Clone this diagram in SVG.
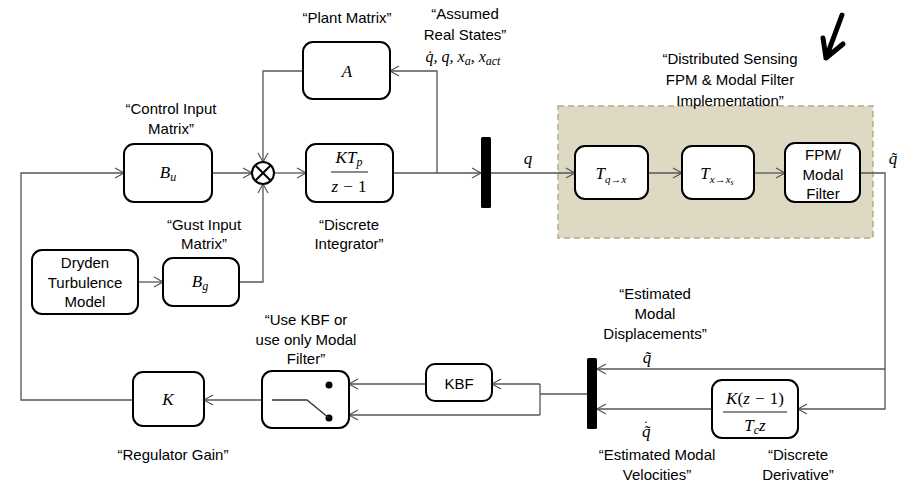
<svg xmlns="http://www.w3.org/2000/svg" width="906" height="492" viewBox="0 0 906 492">
<style>
.box{fill:#fff;stroke:#000;stroke-width:2}
.lbl{font-family:"Liberation Sans",Arial,sans-serif;font-size:15px;fill:#000;text-anchor:middle}
.m{font-family:"Liberation Serif","Times New Roman",serif;font-style:italic;font-size:17px;fill:#000;text-anchor:middle}
.up{font-style:normal}
.c{fill:none;stroke:#555;stroke-width:1.3}
.ca{fill:none;stroke:#555;stroke-width:1.3;marker-end:url(#ah)}
</style>
<defs>
<marker id="ah" markerUnits="userSpaceOnUse" markerWidth="12" markerHeight="12" refX="10" refY="6" orient="auto">
<path d="M1,1 L10,6 L1,11" fill="none" stroke="#555" stroke-width="1.2"/>
</marker>
</defs>
<rect width="906" height="492" fill="#fff"/>

<g id="region">
<rect x="558" y="106" width="315" height="132" fill="#ddd9c3" stroke="#b5ab88" stroke-width="1.5" stroke-dasharray="6,4"/>
</g>

<g id="connectors">
<path class="ca" d="M212,173 H252"/>
<path class="ca" d="M274,173 H306"/>
<path class="ca" d="M393,173 H481"/>
<path class="ca" d="M437,173 V71 H390"/>
<path class="ca" d="M303,71 H263 V162"/>
<path class="ca" d="M239,282 H263 V184"/>
<path class="ca" d="M138,282 H163"/>
<path class="ca" d="M491,173 H575"/>
<path class="ca" d="M648,173 H682"/>
<path class="ca" d="M754,173 H785"/>
<path class="ca" d="M860,173 H885 V409 H798"/>
<path class="ca" d="M885,369 H597"/>
<path class="ca" d="M712,409 H597"/>
<path class="c" d="M587,394 H540 M540,384 V415"/>
<path class="ca" d="M540,384 H492"/>
<path class="ca" d="M540,415 H349"/>
<path class="ca" d="M426,384 H349"/>
<path class="ca" d="M262,400 H204"/>
<path class="ca" d="M133,400 H21 V173 H124"/>
</g>

<g id="sum">
<circle cx="263" cy="173" r="11" fill="#fff" stroke="#000" stroke-width="2"/>
<path d="M255.2,165.2 L270.8,180.8 M270.8,165.2 L255.2,180.8" stroke="#000" stroke-width="2"/>
</g>

<g id="plant">
<rect class="box" x="303" y="42" width="87" height="57" rx="10"/>
<text class="m" x="347" y="77">A</text>
<text class="lbl" x="347" y="23">“Plant Matrix”</text>
</g>

<g id="states">
<text class="lbl" x="465" y="19">“Assumed</text>
<text class="lbl" x="465" y="40">Real States”</text>
<text class="m" x="463" y="62" style="font-size:16px">q̇, q, x<tspan dy="3" font-size="12">a</tspan><tspan dy="-3">, x</tspan><tspan dy="3" font-size="12">act</tspan></text>
</g>

<g id="bu">
<rect class="box" x="124" y="144" width="88" height="58" rx="10"/>
<text class="m" x="168" y="178">B<tspan dy="3" font-size="12">u</tspan></text>
<text class="lbl" x="171" y="114">“Control Input</text>
<text class="lbl" x="171" y="134">Matrix”</text>
</g>

<g id="integrator">
<rect class="box" x="306" y="144" width="87" height="58" rx="10"/>
<text class="m" x="349" y="163">KT<tspan dy="3" font-size="12">p</tspan></text>
<line x1="331" y1="172" x2="368" y2="172" stroke="#666" stroke-width="1.5"/>
<text class="m" x="349" y="192">z − <tspan class="up">1</tspan></text>
<text class="lbl" x="349" y="230">“Discrete</text>
<text class="lbl" x="349" y="249">Integrator”</text>
</g>

<g id="dryden">
<rect class="box" x="32" y="250" width="106" height="64" rx="10"/>
<text class="lbl" x="85" y="268">Dryden</text>
<text class="lbl" x="85" y="288">Turbulence</text>
<text class="lbl" x="85" y="307">Model</text>
</g>

<g id="bg">
<rect class="box" x="163" y="258" width="76" height="48" rx="10"/>
<text class="m" x="200" y="287">B<tspan dy="3" font-size="12">g</tspan></text>
<text class="lbl" x="204" y="230">“Gust Input</text>
<text class="lbl" x="204" y="249">Matrix”</text>
</g>

<g id="bar1">
<rect x="481" y="137" width="10" height="71" rx="1.5" fill="#000"/>
<text class="m" x="528" y="164">q</text>
</g>

<g id="tq">
<rect class="box" x="575" y="146" width="73" height="53" rx="10"/>
<text class="m" x="611" y="179">T<tspan dy="4" font-size="11">q→x</tspan></text>
</g>

<g id="tx">
<rect class="box" x="682" y="146" width="72" height="53" rx="10"/>
<text class="m" x="717" y="179">T<tspan dy="4" font-size="11">x→x</tspan><tspan dy="2" font-size="8">s</tspan></text>
</g>

<g id="fpm">
<rect class="box" x="785" y="143" width="75" height="59" rx="10"/>
<text class="lbl" x="823" y="160">FPM/</text>
<text class="lbl" x="823" y="180">Modal</text>
<text class="lbl" x="823" y="199">Filter</text>
<text class="m" x="893" y="164">q̃</text>
</g>

<g id="dsense">
<text class="lbl" x="730" y="64">“Distributed Sensing</text>
<text class="lbl" x="730" y="85">FPM &amp; Modal Filter</text>
<text class="lbl" x="730" y="106">Implementation”</text>
<path d="M842,15 L826,58 M823,38 L826,58 L843,44" fill="none" stroke="#000" stroke-width="5" stroke-linecap="round" stroke-linejoin="round"/>
</g>

<g id="bar2">
<rect x="587" y="358" width="10" height="71" rx="1.5" fill="#000"/>
<text class="m" x="647" y="363">q̃</text>
<text class="m" x="642" y="437" style="text-anchor:start">q̃<tspan class="up" dx="-7" dy="-6" font-size="14">˙</tspan></text>
<text class="lbl" x="655" y="299">“Estimated</text>
<text class="lbl" x="655" y="319">Modal</text>
<text class="lbl" x="655" y="339">Displacements”</text>
<text class="lbl" x="657" y="460">“Estimated Modal</text>
<text class="lbl" x="657" y="480">Velocities”</text>
</g>

<g id="derivative">
<rect class="box" x="712" y="380" width="86" height="58" rx="10"/>
<text class="m" x="755" y="404">K<tspan class="up">(</tspan>z − <tspan class="up">1)</tspan></text>
<line x1="723" y1="412" x2="787" y2="412" stroke="#666" stroke-width="1.5"/>
<text class="m" x="755" y="431">T<tspan dy="3" font-size="12">c</tspan><tspan dy="-3">z</tspan></text>
<text class="lbl" x="798" y="460">“Discrete</text>
<text class="lbl" x="798" y="480">Derivative”</text>
</g>

<g id="kbf">
<rect class="box" x="426" y="364" width="66" height="37" rx="9"/>
<text class="lbl" x="459" y="389">KBF</text>
</g>

<g id="switch">
<rect class="box" x="262" y="371" width="87" height="57" rx="10"/>
<circle cx="329" cy="385" r="3.5" fill="#000"/>
<circle cx="329" cy="418" r="3.5" fill="#000"/>
<path d="M272,400 H307 L329,418" fill="none" stroke="#333" stroke-width="1.3"/>
<text class="lbl" x="306" y="325">“Use KBF or</text>
<text class="lbl" x="306" y="345">use only Modal</text>
<text class="lbl" x="306" y="364">Filter”</text>
</g>

<g id="k">
<rect class="box" x="133" y="372" width="71" height="54" rx="10"/>
<text class="m" x="168" y="405">K</text>
<text class="lbl" x="173" y="460">“Regulator Gain”</text>
</g>
</svg>
